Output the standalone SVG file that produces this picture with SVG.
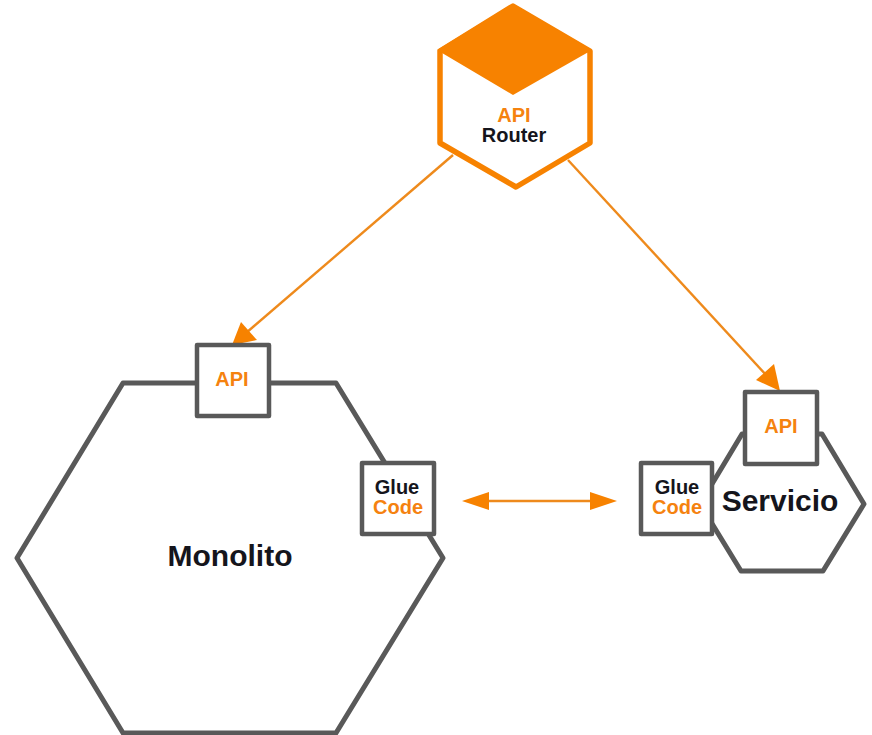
<svg xmlns="http://www.w3.org/2000/svg" width="872" height="735" viewBox="0 0 872 735">
<style>
text{font-family:"Liberation Sans",Arial,sans-serif;font-weight:700;text-anchor:middle}
.hex{fill:#fff;stroke:#595959;stroke-width:5;stroke-linejoin:round}
.box{fill:#fff;stroke:#595959;stroke-width:4.5;stroke-linejoin:round}
.o{fill:#f5820f}.k{fill:#15151c}
.s{font-size:20px}.b{font-size:30px}
.c{fill:none;stroke:#ee8a1c;stroke-width:2.4}
.h{fill:#f78200}
</style>
<rect width="872" height="735" fill="#fff"/>
<g id="connectors">
<line class="c" x1="453" y1="155" x2="246" y2="333"/>
<polygon class="h" points="232,345 241,322 257,340"/>
<line class="c" x1="568" y1="160" x2="768" y2="377"/>
<polygon class="h" points="780,391 756,380 774,364"/>
<line class="c" x1="485" y1="501" x2="594" y2="501"/>
<polygon class="h" points="462,501 489,492 489,510"/>
<polygon class="h" points="617,501 590,492 590,510"/>
</g>
<g id="router">
<polygon points="513,6 590,51 590,143 516,187 440,143 440,51" fill="#fff" stroke="#f78200" stroke-width="5.5" stroke-linejoin="round"/>
<polygon points="513,4 592,50 513,95 437,50" fill="#f78200"/>
<text class="s o" x="514" y="122">API</text>
<text class="s k" x="514" y="142">Router</text>
</g>
<g id="monolito">
<polygon class="hex" points="123,383 336,383 443,558 336,733 123,733 17,558"/>
<text class="b k" x="230" y="566">Monolito</text>
</g>
<g id="servicio">
<polygon class="hex" points="742,434 822,434 864,504 823,571 741,571 700,504"/>
<text class="b k" x="780" y="511">Servicio</text>
</g>
<g id="api-monolito">
<rect class="box" x="197" y="345" width="72" height="71"/>
<text class="s o" x="232" y="386">API</text>
</g>
<g id="glue-monolito">
<rect class="box" x="362" y="463" width="72" height="71"/>
<text class="s k" x="397" y="494">Glue</text>
<text class="s o" x="398" y="514">Code</text>
</g>
<g id="api-servicio">
<rect class="box" x="745" y="392" width="72" height="72"/>
<text class="s o" x="781" y="433">API</text>
</g>
<g id="glue-servicio">
<rect class="box" x="641" y="463" width="71" height="71"/>
<text class="s k" x="677" y="494">Glue</text>
<text class="s o" x="677" y="514">Code</text>
</g>
</svg>
